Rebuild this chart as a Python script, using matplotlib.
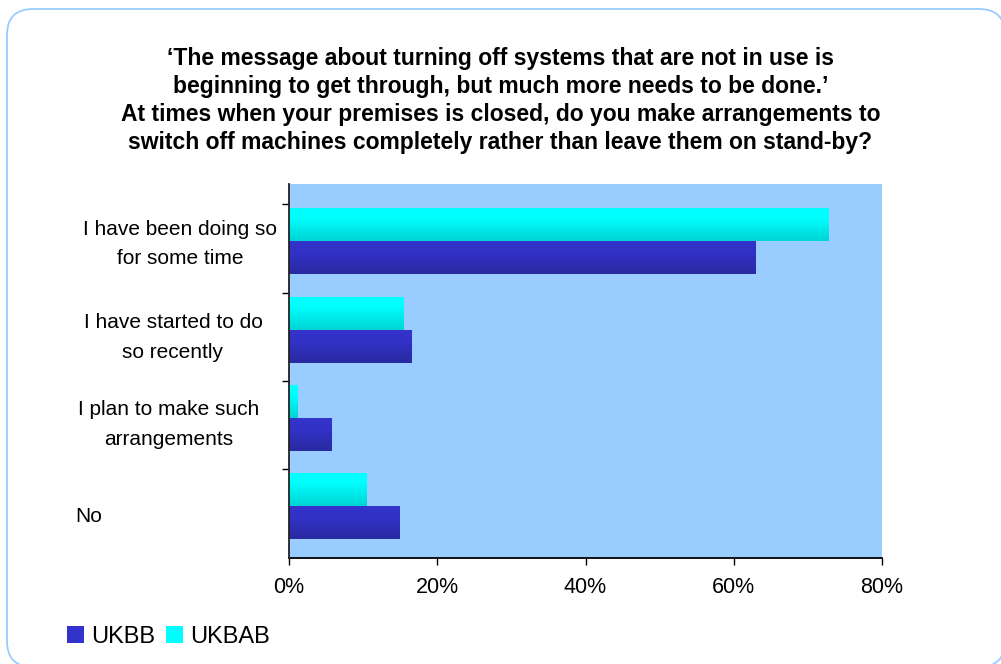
import numpy as np
import matplotlib
matplotlib.use("Agg")
import matplotlib.pyplot as plt
from matplotlib.patches import FancyBboxPatch, Patch
from matplotlib.colors import LinearSegmentedColormap
from matplotlib.transforms import blended_transform_factory, IdentityTransform
from matplotlib.ticker import FixedLocator, PercentFormatter

plt.rcParams['font.family'] = ['Liberation Sans', 'DejaVu Sans']

title_lines = [
    "\u2018The message about turning off systems that are not in use is",
    "beginning to get through, but much more needs to be done.\u2019",
    "At times when your premises is closed, do you make arrangements to",
    "switch off machines completely rather than leave them on stand-by?",
]
categories = [
    "I have been doing so\nfor some time",
    "I have started to do\nso recently",
    "I plan to make such\narrangements",
    "No",
]
series_names = ["UKBB", "UKBAB"]
ukbb = [63.0, 16.5, 5.7, 14.9]
ukbab = [72.8, 15.4, 1.1, 10.5]
x_ticks = [0, 20, 40, 60, 80]

W, H = 1001, 664
fig = plt.figure(figsize=(W / 100, H / 100), dpi=100)

# rounded outer frame (display pixels, origin bottom-left)
frame = FancyBboxPatch((7, H - 667), 998, 658,
                       boxstyle="round,pad=0,rounding_size=26",
                       transform=IdentityTransform(), facecolor="white",
                       edgecolor="#99CCFF", linewidth=1.3, zorder=-5)
fig.patches.append(frame)

ax = fig.add_axes([289 / W, (H - 558) / H, 593 / W, 374 / H])
ax.set_zorder(1)
ax.set_facecolor("#99CCFF")

y = np.arange(len(categories))
bh = 0.375
bars_ab = ax.barh(y - bh / 2, ukbab, height=bh, color="#00FFFF", zorder=2)
bars_bb = ax.barh(y + bh / 2, ukbb, height=bh, color="#3333CC", zorder=2)

cyan_cmap = LinearSegmentedColormap.from_list(
    "cy", [(0, "#00FFFF"), (0.3, "#00FFFF"), (1.0, "#00D4D4")])
blue_cmap = LinearSegmentedColormap.from_list(
    "bl", [(0, "#3434CE"), (0.4, "#3131C4"), (1.0, "#2A2AA2")])
grad = np.linspace(0, 1, 64).reshape(-1, 1)
for bars, cmap in ((bars_ab, cyan_cmap), (bars_bb, blue_cmap)):
    for b in bars:
        x0, y0 = b.get_x(), b.get_y()
        w, h = b.get_width(), b.get_height()
        im = ax.imshow(grad, cmap=cmap, aspect="auto",
                       extent=(x0, x0 + w, y0 + h, y0), zorder=3,
                       interpolation="nearest")
        im.set_clip_path(b)
ax.set_xlim(0, 80)
ax.set_ylim(3.59, -0.651)

for s in ("top", "right"):
    ax.spines[s].set_visible(False)
ax.spines["left"].set_color("#222222")
ax.spines["bottom"].set_color("#000000")
ax.spines["left"].set_linewidth(1.3)
ax.spines["bottom"].set_linewidth(1.3)
ax.spines["left"].set_zorder(5)

ax.set_xticks(x_ticks)
ax.xaxis.set_major_formatter(PercentFormatter(decimals=0))
ax.tick_params(axis="x", direction="out", length=5, width=1, pad=9,
               labelsize=15.5, colors="#000000")
ax.yaxis.set_major_locator(FixedLocator(list(y - 0.42)))
ax.set_yticklabels([])
ax.tick_params(axis="y", direction="out", length=5, width=1)

trans = blended_transform_factory(fig.transFigure, ax.transData)
label_x = [180, 173, 169, 75]
label_dy = [0.03, 0.09, 0.08, 0.12]
for i, lab in enumerate(categories):
    ha = "left" if "\n" not in lab else "center"
    ax.text(label_x[i] / W, y[i] + label_dy[i], lab, transform=trans,
            ha=ha, va="center", multialignment="center", fontsize=15,
            linespacing=1.72, color="black", clip_on=False)

title_y = [58, 87, 114, 142]
for ln, ty in zip(title_lines, title_y):
    fig.text(500.5 / W, 1 - ty / H, ln, ha="center", va="center",
             fontsize=16.5, fontweight="bold", color="black")

handles = [Patch(facecolor="#3333CC", label=series_names[0]),
           Patch(facecolor="#00FFFF", label=series_names[1])]
fig.legend(handles=handles, loc="center left",
           bbox_to_anchor=(67 / W, 1 - 637 / H), ncol=2, frameon=False,
           fontsize=17, handlelength=0.72, handleheight=0.72,
           handletextpad=0.3, columnspacing=0.45, borderpad=0,
           borderaxespad=0)

fig.savefig("out.png", dpi=100)
